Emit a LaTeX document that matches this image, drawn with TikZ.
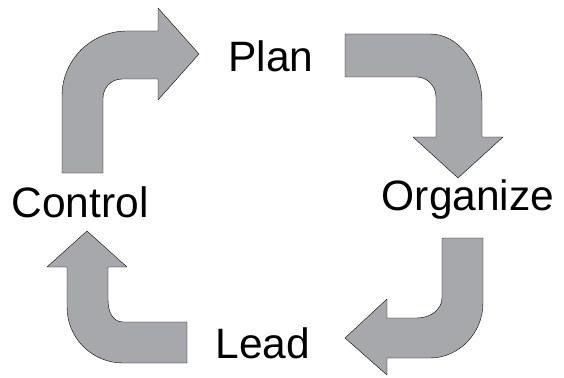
\documentclass[tikz,border=0pt]{standalone}
\usepackage{fontspec}
\setmainfont{Liberation Sans}
\definecolor{arrowgray}{RGB}{167,168,172}

\begin{document}
\begin{tikzpicture}[x=1pt,y=-1pt,line join=round,semithick]
    \tikzstyle{bent}=[fill=arrowgray,draw=black,thin]
    \tikzstyle{word}=[anchor=base,inner sep=0pt,font=\fontsize{42.5}{42.5}\selectfont]
    \useasboundingbox (0,0) rectangle (564,377);

    \node[word] (plan)     at (271,72)  {Plan};
    \node[word] (organize) at (468,210) {Organize};
    \node[word] (lead)     at (263,358) {Lead};
    \node[word] (control)  at (80,217)  {Control};

    % control -> plan
    \path[bent] (62,173) -- (62,96) .. controls (62,60) and (91,31) .. (127,31)
        -- (158,31) -- (158,8) -- (199,54) -- (158,100) -- (158,79) -- (122,79)
        .. controls (111,79) and (103,88) .. (103,98) -- (103,173) -- cycle;
    % plan -> organize
    \path[bent] (345,34) -- (430,34) .. controls (459,34) and (482,65) .. (482,103)
        -- (482,137) -- (503,137) -- (458,178) -- (413,137) -- (436,137) -- (436,97)
        .. controls (436,86) and (427,77) .. (417,77) -- (345,77) -- cycle;
    % organize -> lead
    \path[bent] (442,238) -- (483,238) -- (483,303) .. controls (483,333) and (459,358) .. (430,358)
        -- (387,358) -- (387,375) -- (345,338) -- (387,299) -- (387,318) -- (417,318)
        .. controls (431,318) and (442,309) .. (442,298) -- cycle;
    % lead -> control
    \path[bent] (187,322) -- (187,363) -- (123,363) .. controls (92,363) and (67,338) .. (67,307)
        -- (67,267) -- (47,267) -- (87,231) -- (127,267) -- (108,267) -- (108,300)
        .. controls (108,312) and (113,322) .. (123,322) -- cycle;
\end{tikzpicture}
\end{document}
